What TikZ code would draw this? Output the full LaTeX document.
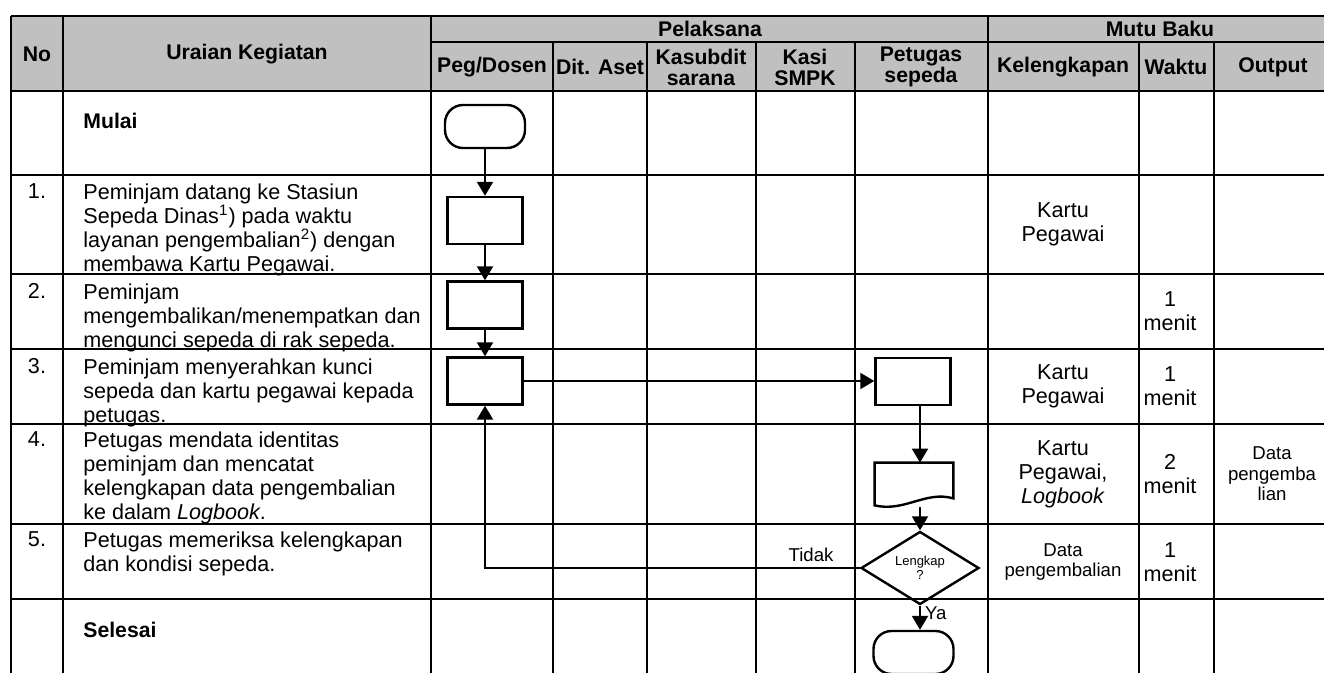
\documentclass[tikz,border=0pt]{standalone}
\usepackage{fontspec}
\setmainfont{Liberation Sans}
\usetikzlibrary{arrows.meta,shapes.geometric,calc}
\definecolor{headgray}{RGB}{192,192,192}

\begin{document}
\begin{tikzpicture}[x=0.5pt,y=-0.5pt]
            \tikzset{
            sop grid/.style={line width=0.85pt},
            sop head/.style={font=\fontsize{10.6}{10.5}\selectfont\bfseries,align=center,inner sep=0},
            sop bold/.style={font=\fontsize{10.6}{12}\selectfont\bfseries,anchor=west,inner sep=0},
            sop text/.style={font=\fontsize{10.8}{12}\selectfont,align=left,anchor=north west,inner sep=0},
            sop num/.style={font=\fontsize{10.8}{12}\selectfont,anchor=north,inner sep=0},
            sop cell/.style={font=\fontsize{10.8}{12}\selectfont,align=center,inner sep=0},
            sop small/.style={font=\fontsize{9.3}{10.3}\selectfont,align=center,inner sep=0},
            sop box/.style={draw,line width=1.2pt,minimum width=37.5pt,minimum height=23.5pt,inner sep=0},
            sop term/.style={draw,line width=1.2pt,rounded corners=9pt,minimum width=40pt,minimum height=21.5pt,inner sep=0},
            sop dec/.style={diamond,draw,line width=1.2pt,minimum width=59pt,minimum height=33.5pt,inner sep=0,font=\fontsize{6.5}{5.5}\selectfont,align=center},
            sop label/.style={font=\fontsize{9.3}{10}\selectfont},
            sop tip/.style={-{Triangle[length=7pt,width=8pt]}}
            }
            \useasboundingbox (0,0) rectangle (1324,673);
            \clip (0,0) rectangle (1324,673);

            % header and grid
            \fill[headgray] (11,16) rectangle (1332,91);
            \draw[sop grid] (11,16) -- (1332,16) (431,42) -- (1332,42) (11,91) -- (1332,91)
                (11,175) -- (1332,175) (11,274) -- (1332,274) (11,349) -- (1332,349)
                (11,424) -- (1332,424) (11,524) -- (1332,524) (11,599) -- (1332,599);
            \draw[sop grid] (11,16) -- (11,690) (63,16) -- (63,690) (431,16) -- (431,690)
                (988,16) -- (988,690) (553,42) -- (553,690) (647,42) -- (647,690)
                (756,42) -- (756,690) (855,42) -- (855,690) (1139,42) -- (1139,690)
                (1214,42) -- (1214,690);

            \node[sop head] (hno) at (37,54) {No};
            \node[sop head] (hura) at (247,54) {Uraian Kegiatan};
            \node[sop head] (hpel) at (710,29) {Pelaksana};
            \node[sop head] (hmutu) at (1160,29) {Mutu Baku};
            \node[sop head] (hpeg) at (492,67) {Peg/Dosen};
            \node[sop head] (hdit) at (600,67) {Dit. Aset};
            \node[sop head] (hkasub) at (701,67) {Kasubdit\\sarana};
            \node[sop head] (hkasi) at (805,67) {Kasi\\SMPK};
            \node[sop head] (hpet) at (921,67) {Petugas\\sepeda};
            \node[sop head] (hkel) at (1063,67) {Kelengkapan};
            \node[sop head] (hwak) at (1176,67) {Waktu};
            \node[sop head] (hout) at (1273,67) {Output};

            % activities
            \node[sop bold] (mulai) at (83,121) {Mulai};
            \node[sop num] (n1) at (37,183) {1.};
            \node[sop text] (t1) at (83,183) {Peminjam datang ke Stasiun\\Sepeda Dinas\textsuperscript{1}) pada waktu\\layanan pengembalian\textsuperscript{2}) dengan\\membawa Kartu Pegawai.};
            \node[sop num] (n2) at (37,283) {2.};
            \node[sop text] (t2) at (83,283) {Peminjam\\mengembalikan/menempatkan dan\\mengunci sepeda di rak sepeda.};
            \node[sop num] (n3) at (37,358) {3.};
            \node[sop text] (t3) at (83,358) {Peminjam menyerahkan kunci\\sepeda dan kartu pegawai kepada\\petugas.};
            \node[sop num] (n4) at (37,431) {4.};
            \node[sop text] (t4) at (83,431) {Petugas mendata identitas\\peminjam dan mencatat\\kelengkapan data pengembalian\\ke dalam \textit{Logbook}.};
            \node[sop num] (n5) at (37,531) {5.};
            \node[sop text] (t5) at (83,531) {Petugas memeriksa kelengkapan\\dan kondisi sepeda.};
            \node[sop bold] (selesai) at (83,630) {Selesai};

            % mutu baku
            \node[sop cell] (k1) at (1063,224) {Kartu\\Pegawai};
            \node[sop cell] (w2) at (1170,311) {1\\menit};
            \node[sop cell] (k3) at (1063,386) {Kartu\\Pegawai};
            \node[sop cell] (w3) at (1170,386) {1\\menit};
            \node[sop cell] (k4) at (1063,474) {Kartu\\Pegawai,\\\textit{Logbook}};
            \node[sop cell] (w4) at (1170,474) {2\\menit};
            \node[sop small] (o4) at (1272,474) {Data\\pengemba\\lian};
            \node[sop small] (k5) at (1063,562) {Data\\pengembalian};
            \node[sop cell] (w5) at (1170,562) {1\\menit};

            % flow
            \node[sop term] (start) at (485,126.5) {};
            \node[sop box] (box1) at (485,220.5) {};
            \node[sop box] (box2) at (485,305) {};
            \node[sop box] (box3) at (485,381) {};
            \node[sop box] (pb) at (913,381.5) {};
            \node[minimum width=39pt,minimum height=21pt,inner sep=0] (doc) at (914,484) {};
            \draw[line width=1.2pt] (doc.south west) -- (doc.north west) -- (doc.north east)
                -- ($(doc.south east)+(0,-7)$) .. controls ($(doc.south east)+(-28,-15)$) and ($(doc.south west)+(30,7)$) .. (doc.south west) -- cycle;
            \node[sop dec] (dec) at (920,568) {Lengkap\\?};
            \node[sop term] (end) at (913.5,652.5) {};
            \coordinate (lane) at (dec.center);

            \path[-,draw,line width=1.1pt]
            (start) edge[sop tip] (box1)
            (box1) edge[sop tip] (box2)
            (box2) edge[sop tip] (box3)
            (box3.east) edge[sop tip] (box3.east -| pb.west)
            (pb.south -| lane) edge[sop tip] (doc.north -| lane)
            ($(doc.south -| lane)+(0,2)$) edge[sop tip] (dec.north)
            (dec.south) edge[sop tip] node[sop label,pos=0.3,right,inner sep=2pt] (ya) {Ya} (end.north -| lane)
            ;
            \draw[line width=1.1pt,sop tip] (dec.west)
                -- node[sop label,above,pos=0.13,inner sep=2.5pt] (tidak) {Tidak} (dec.west -| box3.south) -- (box3.south);
        \end{tikzpicture}
\end{document}
